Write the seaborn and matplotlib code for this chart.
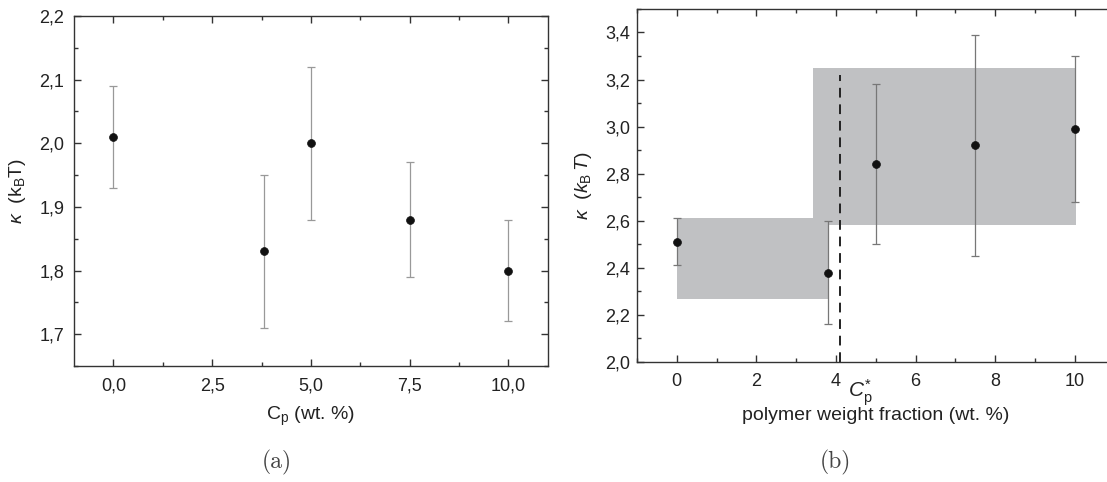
import matplotlib
matplotlib.use("Agg")
import matplotlib.pyplot as plt
import seaborn as sns
import pandas as pd
from matplotlib.ticker import FuncFormatter, MultipleLocator

# panel (a): bending rigidity vs polymer concentration
cp_a = [0.0, 3.8, 5.0, 7.5, 10.0]
kappa_a = [2.01, 1.83, 2.00, 1.88, 1.80]
err_lo_a = [0.08, 0.12, 0.12, 0.09, 0.08]
err_hi_a = [0.08, 0.12, 0.12, 0.09, 0.08]

# panel (b)
cp_b = [0.0, 3.8, 5.0, 7.5, 10.0]
kappa_b = [2.51, 2.38, 2.84, 2.92, 2.99]
err_lo_b = [0.10, 0.22, 0.34, 0.47, 0.31]
err_hi_b = [0.10, 0.22, 0.34, 0.47, 0.31]

# shaded regimes below / above C*
box_x = [[0.0, 3.83], [3.42, 10.03]]
box_y = [[2.267, 2.61], [2.58, 3.25]]
c_star = 4.11
c_star_top = 3.22

sns.set_style("ticks")
plt.rcParams['font.family'] = ['Liberation Sans', 'DejaVu Sans']
plt.rcParams['mathtext.fontset'] = 'custom'
plt.rcParams['mathtext.rm'] = 'Liberation Sans'
plt.rcParams['mathtext.it'] = 'Liberation Sans:italic'
plt.rcParams['mathtext.bf'] = 'Liberation Sans:bold'

comma = FuncFormatter(lambda v, p: f"{v:.1f}".replace('.', ','))
comma_int = FuncFormatter(lambda v, p: f"{v:.0f}")

fig = plt.figure(figsize=(11.07, 4.82), dpi=100)
ax1 = fig.add_axes([0.0668, 0.2407, 0.4282, 0.7261])
ax2 = fig.add_axes([0.5754, 0.249, 0.4316, 0.7324])


def style_axes(ax, pad_x, pad_y):
    for s in ax.spines.values():
        s.set_linewidth(1.0)
        s.set_color('#333333')
        s.set_visible(True)
    ax.tick_params(which='both', direction='in', top=True, right=True,
                   colors='#333333', labelcolor='#222222', labelsize=13, width=1.0)
    ax.tick_params(which='major', length=5)
    ax.tick_params(which='minor', length=3)
    ax.tick_params(axis='x', pad=pad_x)
    ax.tick_params(axis='y', pad=pad_y)


df_a = pd.DataFrame({'cp': cp_a, 'kappa': kappa_a})
ax1.errorbar(cp_a, kappa_a, yerr=[err_lo_a, err_hi_a], fmt='none',
             ecolor='#999999', elinewidth=0.9, capsize=3, capthick=0.9, zorder=2)
sns.scatterplot(data=df_a, x='cp', y='kappa', ax=ax1, color='#111111',
                s=32, edgecolor='#111111', linewidth=0.5, zorder=3)
ax1.set_xlim(-1, 11)
ax1.set_ylim(1.65, 2.2)
ax1.xaxis.set_major_locator(MultipleLocator(2.5))
ax1.xaxis.set_minor_locator(MultipleLocator(1.25))
ax1.yaxis.set_major_locator(MultipleLocator(0.1))
ax1.yaxis.set_minor_locator(MultipleLocator(0.05))
ax1.xaxis.set_major_formatter(comma)
ax1.yaxis.set_major_formatter(comma)
style_axes(ax1, 8, 7)
ax1.set_xlabel(r'C$_{\mathrm{p}}$ (wt. %)', fontsize=14, labelpad=8, color='#222222')
ax1.set_ylabel(r'$\kappa$  (k$_{\mathrm{B}}$T)', fontsize=14, labelpad=8, color='#222222')

df_b = pd.DataFrame({'cp': cp_b, 'kappa': kappa_b})
for (x0, x1), (y0, y1) in zip(box_x, box_y):
    ax2.fill_between([x0, x1], y0, y1, color='#c0c1c3', linewidth=0, zorder=1)
ax2.plot([c_star, c_star], [2.0, c_star_top], color='#222222', lw=1.4,
         dashes=(5, 3.5), zorder=2)
ax2.errorbar(cp_b, kappa_b, yerr=[err_lo_b, err_hi_b], fmt='none',
             ecolor='#777777', elinewidth=0.9, capsize=3, capthick=0.9, zorder=3)
sns.scatterplot(data=df_b, x='cp', y='kappa', ax=ax2, color='#111111',
                s=32, edgecolor='#111111', linewidth=0.5, zorder=4)
ax2.set_xlim(-1, 11)
ax2.set_ylim(2.0, 3.5)
ax2.xaxis.set_major_locator(MultipleLocator(2))
ax2.xaxis.set_minor_locator(MultipleLocator(1))
ax2.yaxis.set_major_locator(MultipleLocator(0.2))
ax2.yaxis.set_minor_locator(MultipleLocator(0.1))
ax2.xaxis.set_major_formatter(comma_int)
ax2.yaxis.set_major_formatter(comma)
style_axes(ax2, 8, 5)
ax2.set_xlabel('polymer weight fraction (wt. %)', fontsize=14, labelpad=12, color='#222222')
ax2.set_ylabel(r'$\kappa$  ($k_{\mathrm{B}}\,T$)', fontsize=14, labelpad=8, color='#222222')
ax2.text(4.3, -0.045, r'$C_{\mathrm{p}}^{*}$', transform=ax2.get_xaxis_transform(),
         ha='left', va='top', fontsize=15, color='#222222')

fig.text(0.25, 0.04, '(a)', family='cmr10', fontsize=17, ha='center', va='center', color='#444444')
fig.text(0.755, 0.04, '(b)', family='cmr10', fontsize=17, ha='center', va='center', color='#444444')

fig.savefig('out.png', dpi=100)
